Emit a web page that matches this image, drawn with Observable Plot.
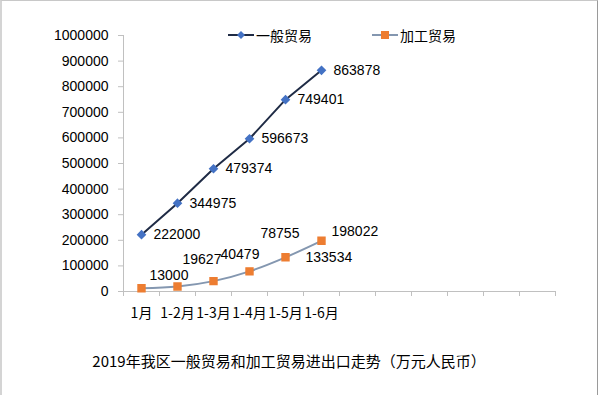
<!DOCTYPE html>
<html>
<head>
<meta charset="utf-8">
<script src="https://cdn.jsdelivr.net/npm/d3@7"></script>
<script src="https://cdn.jsdelivr.net/npm/@observablehq/plot@0.6"></script>
<style>
  html, body { margin: 0; padding: 0; background: #fff; }
  #wrap { position: relative; width: 600px; height: 395px; overflow: hidden; background: #fff;
          font-family: "Liberation Sans", "Noto Sans CJK SC", sans-serif; color: #000; }
  #frame { position: absolute; left: 0; top: 0; width: 595px; height: 400px;
           border-left: 2px solid #d4d4d4; border-top: 1px solid #c8c8c8; border-right: 1px solid #9a9a9a; pointer-events: none; }
  #chart { position: absolute; left: 0; top: 0; }
  .leg { position: absolute; top: 26px; height: 18px; display: flex; align-items: center; font-size: 14px;
         font-family: "Noto Sans CJK SC", sans-serif; }
  .leg svg { margin-right: 1px; }
  #title { position: absolute; top: 350px; left: 0; width: 578px; text-align: center; font-size: 15px;
           font-family: "Noto Sans CJK SC", sans-serif; }
</style>
</head>
<body>
<div id="wrap">
  <div id="chart"></div>
  <div id="legend"></div>
  <div id="title"></div>
  <div id="frame"></div>
</div>
<script>
// ---- data ----
const categories = ["1月", "1-2月", "1-3月", "1-4月", "1-5月", "1-6月"];
const slotCount = 12; // category slots on the axis (6 filled, 6 empty)
const seriesNames = ["一般贸易", "加工贸易"];
const generalTrade = [222000, 344975, 479374, 596673, 749401, 863878];
const processingTrade = [13000, 19627, 40479, 78755, 133534, 198022];
const yTicks = [0, 100000, 200000, 300000, 400000, 500000, 600000, 700000, 800000, 900000, 1000000];
const titleText = "2019年我区一般贸易和加工贸易进出口走势（万元人民币）";

// ---- styles ----
const genLine = "#1f2b45", genMark = "#4472c4";
const procLine = "#8497b0", procMark = "#ed7d31";
const axisColor = "#c0c0c0";
// label nudges for the processing-trade labels (as placed in the original)
const procNudge = [[8, -13], [5, -27], [7, -27], [11, -38], [20, 0], [10, -9]];

const gen = categories.map((c, i) => ({i, cat: c, v: generalTrade[i]}));
const proc = categories.map((c, i) => ({i, cat: c, v: processingTrade[i], dx: procNudge[i][0], dy: procNudge[i][1]}));
const pos = d => d.i + 0.5;

const chart = Plot.plot({
  width: 600,
  height: 335,
  marginTop: 35,
  marginLeft: 123,
  marginRight: 45,
  marginBottom: 44,
  style: {fontFamily: "Liberation Sans, sans-serif", fontSize: "14px", color: "#000", background: "transparent", overflow: "visible"},
  x: {type: "linear", domain: [0, slotCount]},
  y: {domain: [0, 1000000]},
  marks: [
    Plot.axisY({ticks: yTicks, tickSize: 5, tickPadding: 10, stroke: axisColor, fill: "#000", fontSize: 14, tickFormat: d => String(d), label: null}),
    Plot.axisX({ticks: d3.range(0, slotCount + 1), tickSize: 5, stroke: axisColor, tickFormat: () => "", label: null}),
    Plot.axisX({ticks: categories.map((c, i) => i + 0.5), tickSize: 0, tickPadding: 17, tickFormat: (d) => categories[Math.floor(d)],
                fontSize: 14, fontFamily: "Noto Sans CJK SC, sans-serif", fill: "#000", label: null}),
    Plot.ruleX([0], {stroke: axisColor}),
    Plot.ruleY([0], {stroke: axisColor}),
    Plot.line(gen, {x: pos, y: "v", stroke: genLine, strokeWidth: 2}),
    Plot.line(proc, {x: pos, y: "v", stroke: procLine, strokeWidth: 2, curve: "monotone-x"}),
    Plot.dot(gen, {x: pos, y: "v", symbol: "diamond2", r: 3.4, fill: genMark, stroke: genMark}),
    Plot.dot(proc, {x: pos, y: "v", symbol: "square", r: 3.9, fill: procMark, stroke: procMark}),
    Plot.text(gen, {x: pos, y: "v", text: d => String(d.v), dx: 12, textAnchor: "start", fontSize: 14, fill: "#000"}),
    ...proc.map(d => Plot.text([d], {x: pos, y: "v", text: d => String(d.v), dx: d.dx, dy: d.dy, textAnchor: "start", fontSize: 14, fill: "#000"}))
  ]
});
document.getElementById("chart").appendChild(chart);

// ---- legend ----
const legend = document.getElementById("legend");
const legItems = [
  {name: seriesNames[0], line: genLine, mark: genMark, shape: "diamond", left: 228},
  {name: seriesNames[1], line: procLine, mark: procMark, shape: "square", left: 372}
];
for (const it of legItems) {
  const div = document.createElement("div");
  div.className = "leg";
  div.style.left = it.left + "px";
  const sym = it.shape === "diamond"
    ? `<path d="M13,5 L17,9 L13,13 L9,9 Z" fill="${it.mark}"/>`
    : `<rect x="9" y="5" width="8" height="8" fill="${it.mark}"/>`;
  div.innerHTML = `<svg width="27" height="18"><line x1="0" x2="26" y1="9" y2="9" stroke="${it.line}" stroke-width="2"/>${sym}</svg><span>${it.name}</span>`;
  legend.appendChild(div);
}
document.getElementById("title").textContent = titleText;
</script>
</body>
</html>
